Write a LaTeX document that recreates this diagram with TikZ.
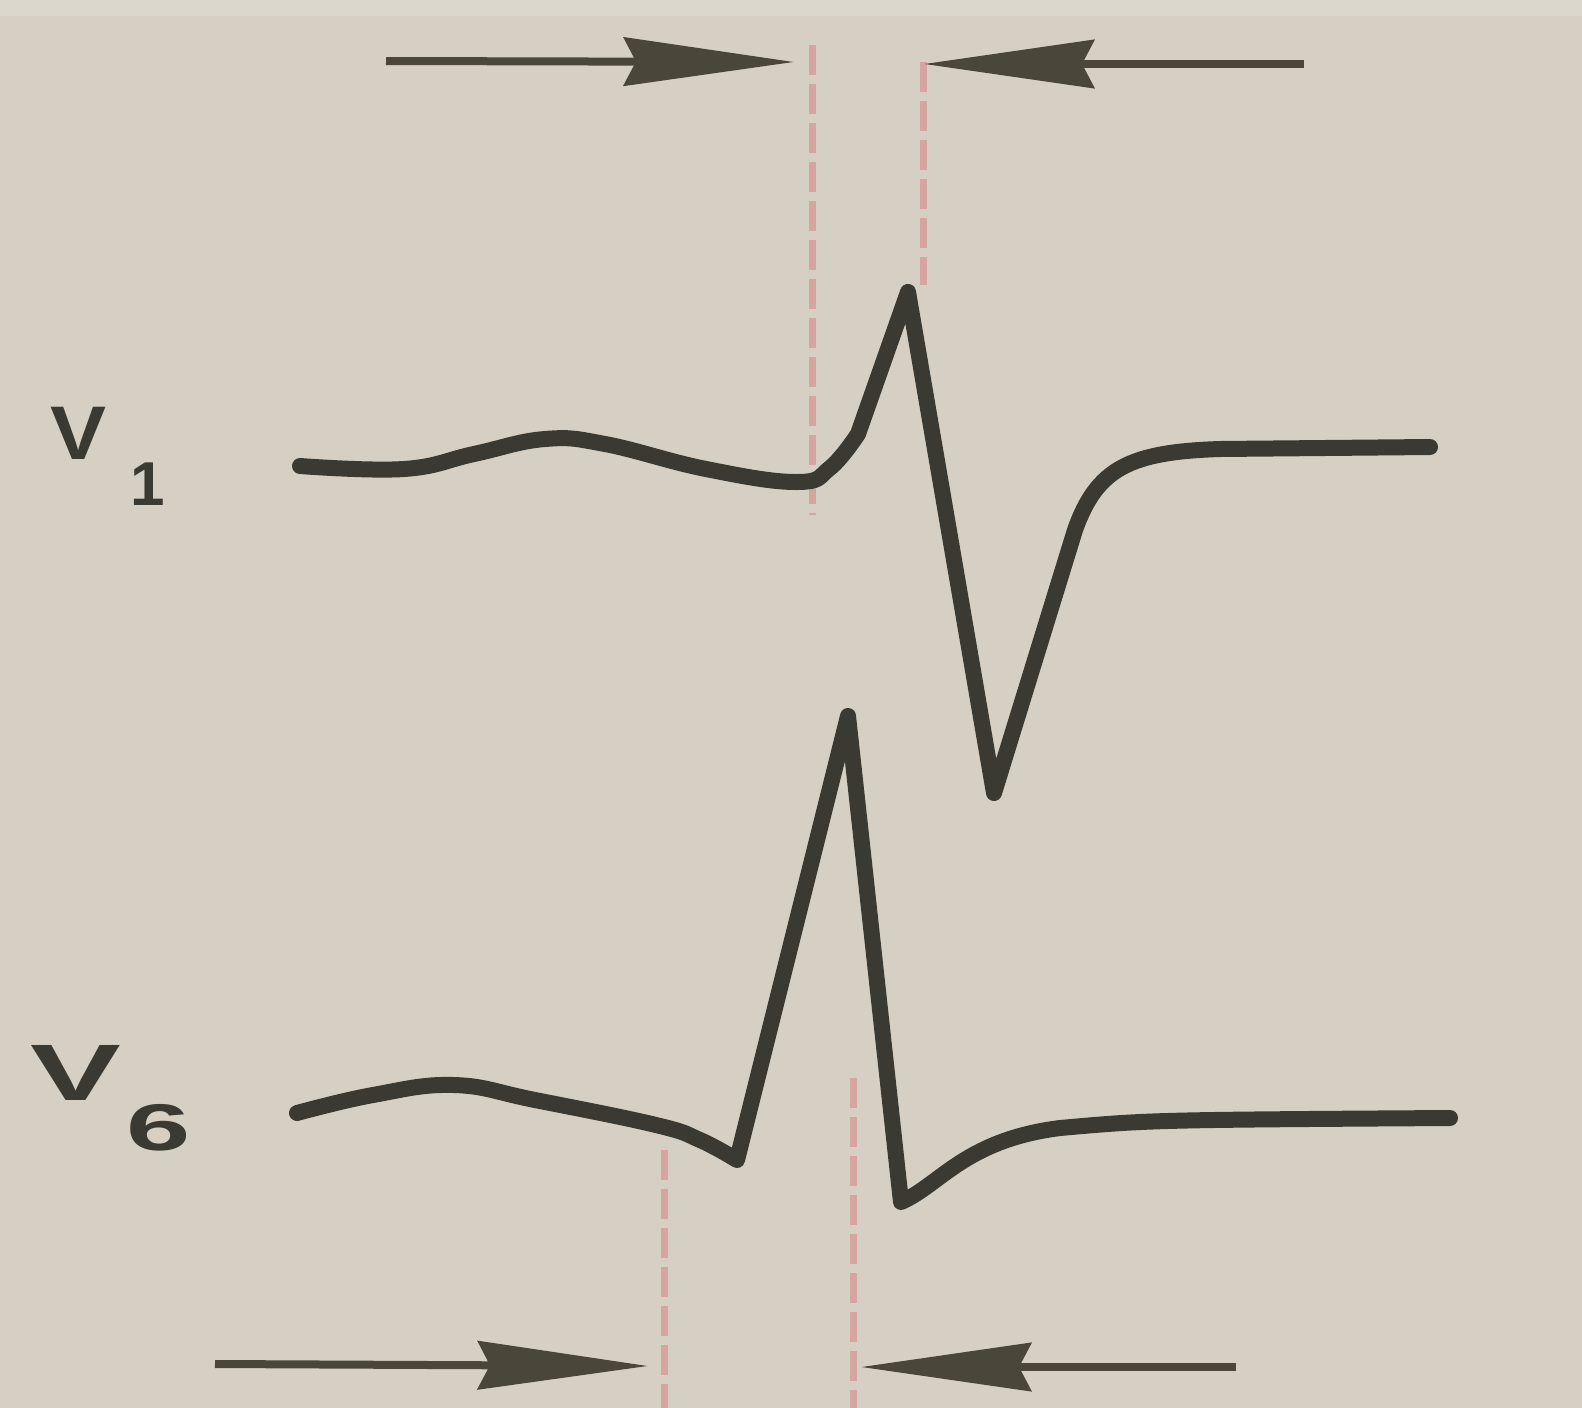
\documentclass[tikz,border=0pt]{standalone}
\usepackage{fontspec}
\setmainfont{Liberation Sans}
\usetikzlibrary{arrows.meta}
\definecolor{paper}{RGB}{214,208,196}
\definecolor{ink}{RGB}{58,57,50}
\definecolor{arrowink}{RGB}{74,70,58}
\definecolor{marker}{RGB}{214,150,150}
\tikzset{
  trace/.style={draw=ink, line width=16pt, line join=round, line cap=round},
  caliper/.style={draw=arrowink, line width=8pt, -{Stealth[length=170pt,width=48pt,inset=12pt]}},
  marker/.style={draw=marker, line width=7pt, dash pattern=on 30pt off 9pt, opacity=0.75},
  lead/.style={font=\bfseries\fontsize{80}{82}\selectfont, text=ink, inner sep=0pt, anchor=base west}
}
\begin{document}
\begin{tikzpicture}[x=1pt,y=-1pt]
\fill[paper] (0,0) rectangle (1582,1408);
\fill[paper!85!white] (0,0) rectangle (1582,16);
\useasboundingbox (0,0) rectangle (1582,1408);

% coordinates for markers and calipers
\coordinate (m1t) at (812,45);  \coordinate (m1b) at (812,515);
\coordinate (m2t) at (923,62);  \coordinate (m2b) at (923,285);
\coordinate (m3t) at (664,1150); \coordinate (m3b) at (664,1408);
\coordinate (m4t) at (853,1078); \coordinate (m4b) at (853,1408);

\coordinate (a1s) at (386,61);  \coordinate (a1e) at (794,62);
\coordinate (a2s) at (1304,64); \coordinate (a2e) at (924,64);
\coordinate (a3s) at (215,1364); \coordinate (a3e) at (648,1366);
\coordinate (a4s) at (1236,1367); \coordinate (a4e) at (861,1367);

% dashed markers
\draw[marker] (m1t) -- (m1b);
\draw[marker] (m2t) -- (m2b);
\draw[marker] (m3t) -- (m3b);
\draw[marker] (m4t) -- (m4b);

% V1 trace
\draw[trace] plot[smooth,tension=0.7] coordinates {(300,466)(404,469)(474,454)(545,439)(605,444)(706,469)(797,482)(830,468)(858,434)}
  -- (908,292) -- (994,793) -- (1075,530)
  .. controls (1097,468) and (1130,452) .. (1220,449) -- (1430,447);

% V6 trace
\draw[trace] plot[smooth,tension=0.7] coordinates {(297,1113)(373,1095)(454,1085)(535,1100)(656,1125)(700,1140)(737,1160)}
  -- (848,716) -- (901,1202)
  .. controls (940,1185) and (965,1140) .. (1060,1128)
  .. controls (1150,1120) .. (1450,1118);

% calipers
\draw[caliper] (a1s) -- (a1e);
\draw[caliper] (a2s) -- (a2e);
\draw[caliper] (a3s) -- (a3e);
\draw[caliper] (a4s) -- (a4e);

% labels
\node[lead] (v1) at (50,459) {\scalebox{1.05}[0.95]{V}\hspace{24pt}\raisebox{-46pt}{\fontsize{62}{64}\selectfont 1}};
\node[lead] (v6) at (30,1100) {\scalebox{1.7}[1]{V}\hspace{6pt}\raisebox{-50pt}{\scalebox{1.75}[1]{\fontsize{66}{68}\selectfont 6}}};
\end{tikzpicture}
\end{document}
